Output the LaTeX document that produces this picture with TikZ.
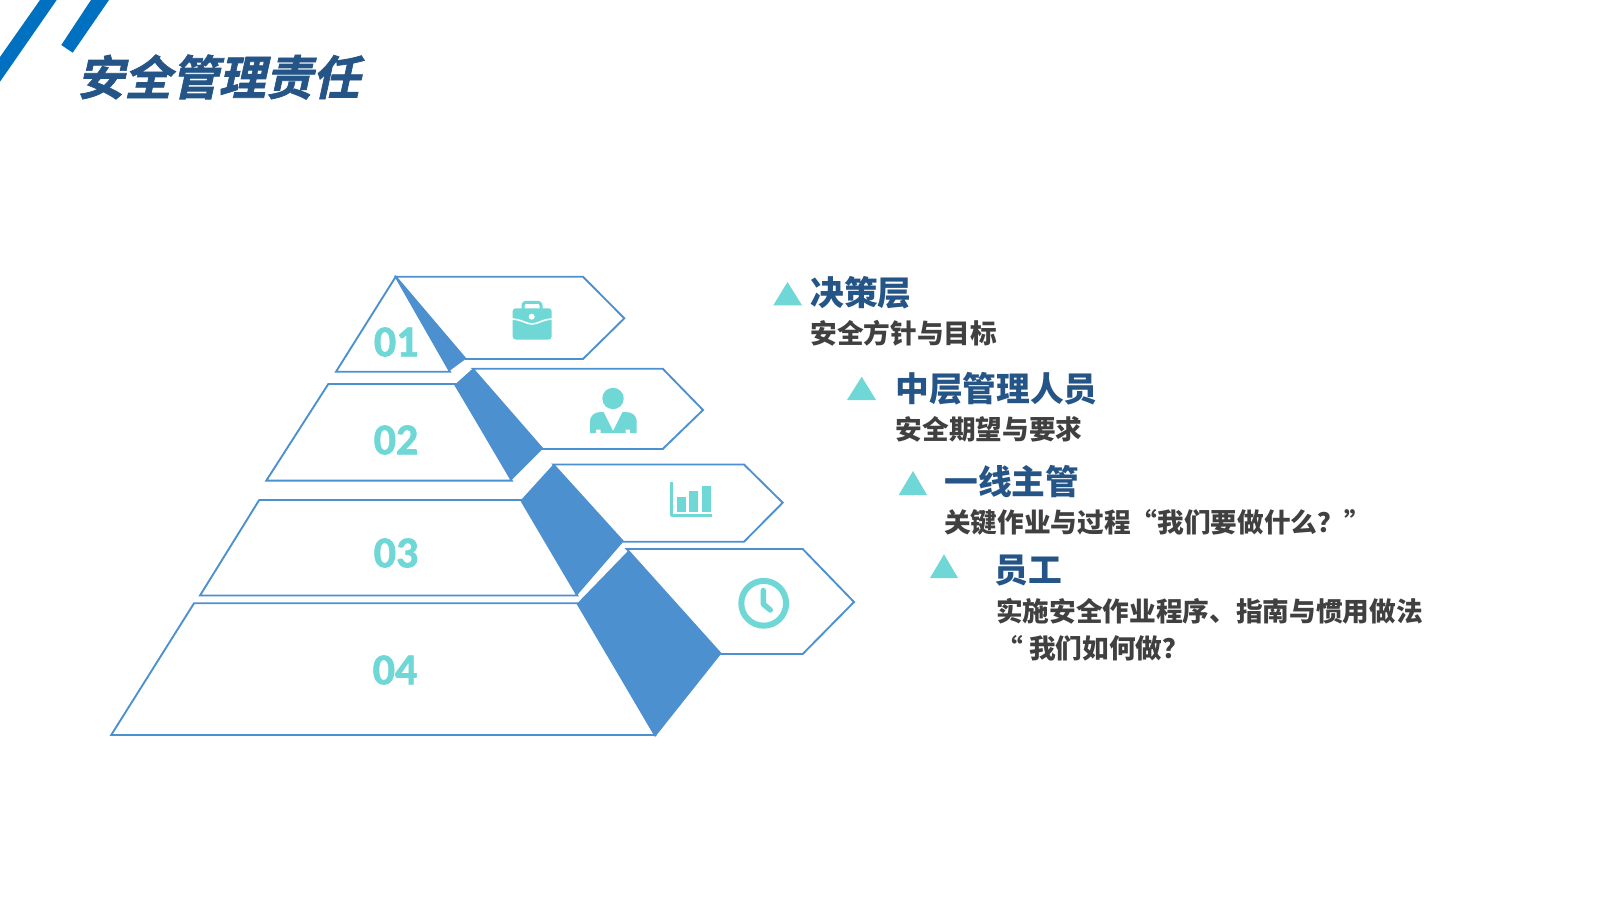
\documentclass[tikz,border=0pt]{standalone}
\usepackage{fontspec}
\setmainfont{Noto Sans CJK SC}
\newfontfamily\cjk{Noto Sans CJK SC}
\newfontfamily\titlefont[FakeSlant=0.22,FakeBold=1.5]{Noto Sans CJK SC Bold}
\newfontfamily\numfont[BoldFeatures={FakeBold=1.5}]{Carlito}
\definecolor{teal1}{HTML}{70D7D7}
\definecolor{blue1}{HTML}{4C90D0}
\definecolor{navy1}{HTML}{255587}
\definecolor{gray1}{HTML}{404040}
\definecolor{slash1}{HTML}{0070C0}
\tikzset{
  x=0.75pt,y=-0.75pt,
  outline/.style={draw=blue1,line width=1.4pt,line join=miter,fill=white},
  wedge/.style={fill=blue1,draw=none},
  icon/.style={fill=teal1,draw=none},
  marker/.style={fill=teal1,draw=none},
  head/.style={anchor=west,inner sep=0pt,text=navy1,font=\cjk\bfseries\fontsize{25.3}{25.3}\selectfont},
  sub/.style={anchor=west,inner sep=0pt,text=gray1,font=\cjk\bfseries\fontsize{20}{20}\selectfont},
  num/.style={inner sep=0pt,text=teal1,font=\numfont\bfseries\fontsize{33}{33}\selectfont},
}
\begin{document}
\begin{tikzpicture}
\useasboundingbox[fill=white] (0,0) rectangle (1600,900);
% slashes
\fill[slash1] (40,0) -- (56.7,0) -- (0,81.7) -- (0,57) -- cycle;
\fill[slash1] (91,0) -- (109,0) -- (72.7,52.7) -- (61.3,45) -- cycle;
\node[anchor=west,inner sep=0pt,text=navy1,font=\titlefont\fontsize{35.3}{35.3}\selectfont] (title) at (77,77) {安全管理责任};
% level 4
\draw[outline] (626.7,549) -- (802.7,549) -- (854,602) -- (802.7,654) -- (721,654) -- cycle;
\draw[outline] (194,603.3) -- (577.3,603.3) -- (655,735) -- (111.2,735) -- cycle;
\fill[wedge] (628.3,550.7) -- (721,654) -- (655,737) -- (577.3,603.3) -- cycle;
% level 3
\draw[outline] (553.3,464.5) -- (744,464.5) -- (782.7,502.7) -- (744,541.7) -- (623.3,541.7) -- cycle;
\draw[outline] (259.2,500) -- (521,500) -- (577.3,595.5) -- (200,595.5) -- cycle;
\fill[wedge] (553.3,464.5) -- (623.3,541.7) -- (577.3,595) -- (521,500) -- cycle;
% level 2
\draw[outline] (472.7,368.7) -- (662.7,368.7) -- (703,410) -- (662.7,449) -- (542.7,449) -- cycle;
\draw[outline] (328.3,384) -- (455,384) -- (511.7,480.6) -- (266.3,480.6) -- cycle;
\fill[wedge] (472.7,368.7) -- (542.7,449) -- (511.7,480) -- (454.3,385) -- cycle;
% level 1
\draw[outline] (395.7,276.7) -- (583,276.7) -- (624.3,318.3) -- (583,359) -- (465.7,359) -- cycle;
\draw[outline] (395.7,276.7) -- (450,371.7) -- (336,371.7) -- cycle;
\fill[wedge] (395.7,276.7) -- (465.7,359) -- (449.3,371) -- cycle;
% numbers
\node[num] (n1) at (396.2,342) {01};
\node[num] (n2) at (396,440) {02};
\node[num] (n3) at (396,553) {03};
\node[num] (n4) at (395,670) {04};
% briefcase
\draw[teal1,line width=2.25pt,rounded corners=2.25pt] (523,309) -- (523,302.3) -- (541,302.3) -- (541,309);
\fill[icon,rounded corners=2.25pt] (512.7,308.3) rectangle (551.7,339.5);
\draw[white,line width=1.2pt] (512,319) .. controls (522,319.5) and (526,324) .. (532,324) .. controls (538,324) and (542,319.5) .. (552,319);
\fill[white] (531.7,316.7) circle (3);
% person
\fill[icon] (613,398.5) circle (10.7);
\fill[icon] (590,433) -- (590,422) .. controls (590,415) and (595,412) .. (601,412) -- (603.5,412) -- (613,431) -- (622.5,412) -- (625,412) .. controls (632,412) and (636.7,415) .. (636.7,422) -- (636.7,433) -- (630,433) -- (630,429.5) -- (625.5,429.5) -- (625.5,433) -- (600.5,433) -- (600.5,429.5) -- (596,429.5) -- (596,433) -- cycle;
% chart
\draw[teal1,line width=2.25pt,line join=round] (671.8,482) -- (671.8,515.5) -- (711.5,515.5);
\fill[icon] (676.7,496.7) rectangle (685.7,511.7);
\fill[icon] (689.3,490.7) rectangle (698,511.7);
\fill[icon] (701.7,486) rectangle (710.7,511.7);
% clock
\draw[teal1,line width=4.5pt] (763.7,603.3) circle (22.4);
\draw[teal1,line width=4.1pt,line cap=round,line join=round] (763.3,590.5) -- (763.3,604) -- (770.3,610);
% text
\fill[marker] (773.3,305.3) -- (787.5,282) -- (802,305.3) -- cycle;
\node[head] (h1) at (810,293) {决策层};
\node[sub] (s1) at (810.3,333.7) {安全方针与目标};
\fill[marker] (847,400) -- (861.7,376.7) -- (876,400) -- cycle;
\node[head] (h2) at (895,389) {中层管理人员};
\node[sub] (s2) at (895.5,429) {安全期望与要求};
\fill[marker] (898.7,495) -- (913,471) -- (927,495) -- cycle;
\node[head] (h3) at (944,481.5) {一线主管};
\node[sub] (s3) at (944,522) {关键作业与过程“我们要做什么？”};
\fill[marker] (930,578) -- (944,554.3) -- (958,578) -- cycle;
\node[head] (h4) at (994,571) {员工};
\node[sub] (s4) at (996,611.2) {实施安全作业程序、指南与惯用做法};
\node[sub] (s5) at (996,648.5) {“ 我们如何做？};
\end{tikzpicture}
\end{document}
